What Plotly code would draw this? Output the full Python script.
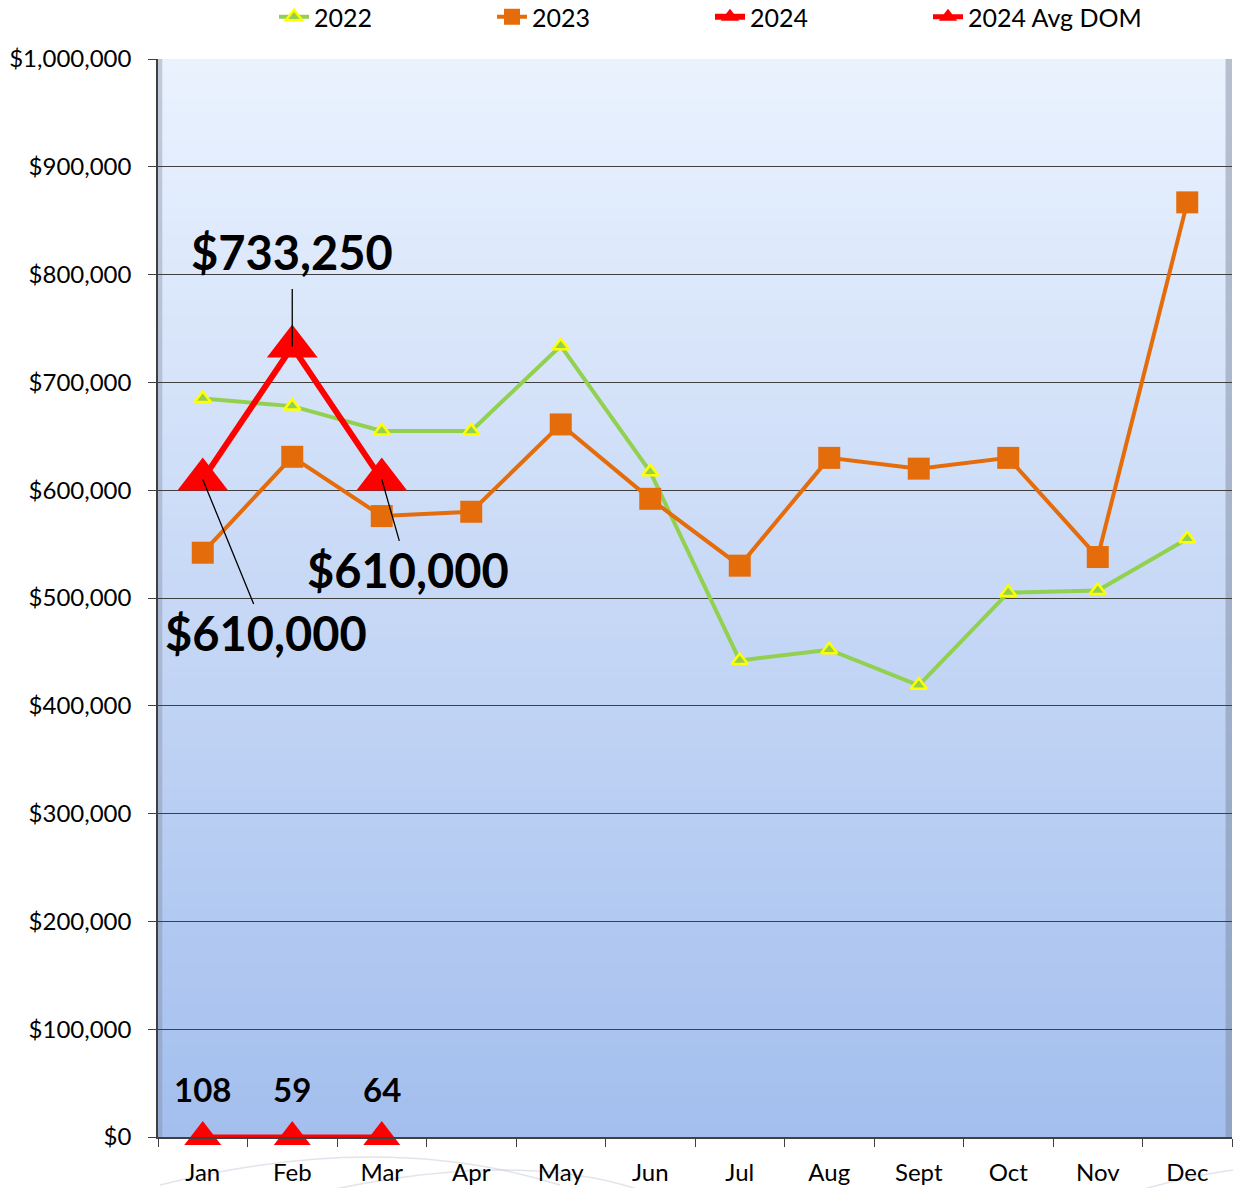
import plotly.graph_objects as go

months = ["Jan", "Feb", "Mar", "Apr", "May", "Jun", "Jul", "Aug", "Sept", "Oct", "Nov", "Dec"]
y2022 = [685000, 678000, 655000, 655000, 734000, 617000, 442000, 452000, 419000, 505000, 507000, 555000]
y2023 = [542000, 631000, 576000, 580000, 661000, 592000, 530000, 630000, 620000, 630000, 538000, 867000]
y2024 = [610000, 733250, 610000]
dom2024 = [108, 59, 64]
months2024 = months[:3]
ytick_vals = list(range(0, 1000001, 100000))

FONT = "Lato"
W, H = 1233, 1188
L, R, T, B = 158, 1, 59, 51
PW, PH = W - L - R, H - T - B


def px(x):
    return (x - L) / PW


def py(y):
    return (H - B - y) / PH


fig = go.Figure()

fig.add_trace(go.Scatter(
    x=months, y=y2022, name="2022", mode="lines+markers",
    line=dict(color="#92D050", width=4),
    marker=dict(symbol="triangle-up", size=14, color="#92D050",
                line=dict(color="#FFFF00", width=2.5)),
))
fig.add_trace(go.Scatter(
    x=months, y=y2023, name="2023", mode="lines+markers",
    line=dict(color="#E46C0A", width=4),
    marker=dict(symbol="square", size=22, color="#E46C0A"),
))
fig.add_trace(go.Scatter(
    x=months2024, y=y2024, name="2024", mode="lines+markers",
    line=dict(color="#FF0000", width=6),
    marker=dict(symbol="triangle-up", size=44, color="#FF0000"),
    cliponaxis=False,
))
fig.add_trace(go.Scatter(
    x=months2024, y=dom2024, name="2024 Avg DOM", mode="lines+markers",
    line=dict(color="#FF0000", width=5),
    marker=dict(symbol="triangle-up", size=32, color="#FF0000"),
    cliponaxis=False,
))

# gradient background
shapes = []
N = 80
top = (234, 242, 254)
bot = (164, 191, 238)
for i in range(N):
    t = i / (N - 1)
    c = tuple(round(top[k] + (bot[k] - top[k]) * t) for k in range(3))
    shapes.append(dict(type="rect", xref="paper", yref="paper",
                       x0=0, x1=1, y0=max(0, 1 - (i + 1) / N - 0.004), y1=1 - i / N,
                       fillcolor="rgb(%d,%d,%d)" % c, line=dict(width=0),
                       layer="below"))
# bevel edges
shapes.append(dict(type="rect", xref="paper", yref="paper", x0=0.994, x1=1.0,
                   y0=0, y1=1, fillcolor="rgba(120,130,150,0.45)",
                   line=dict(width=0), layer="below"))
shapes.append(dict(type="rect", xref="paper", yref="paper", x0=0.0, x1=0.004,
                   y0=0, y1=1, fillcolor="rgba(120,130,150,0.35)",
                   line=dict(width=0), layer="below"))
# faint decorative arcs below the plot
arc1 = "M %f,%f Q %f,%f %f,%f" % (px(160), py(1185), px(383), py(1129), px(560), py(1185))
arc2 = "M %f,%f Q %f,%f %f,%f" % (px(330), py(1190), px(520), py(1150), px(640), py(1190))
arc3 = "M %f,%f Q %f,%f %f,%f" % (px(1140), py(1190), px(1190), py(1176), px(1233), py(1170))
for p in (arc1, arc2, arc3):
    shapes.append(dict(type="path", xref="paper", yref="paper", path=p,
                       line=dict(color="rgba(200,206,220,0.55)", width=1.5),
                       layer="below"))

annotations = []
annotations.append(dict(x="Feb", y=y2024[1], text="<b>$733,250</b>", showarrow=True,
                        arrowhead=0, arrowwidth=1.3, arrowcolor="black",
                        ax=0, ay=-95, startstandoff=8,
                        font=dict(family=FONT, size=47, color="black")))
annotations.append(dict(x="Mar", y=y2024[2], text="<b>$610,000</b>", showarrow=True,
                        arrowhead=0, arrowwidth=1.3, arrowcolor="black",
                        ax=26, ay=91,
                        font=dict(family=FONT, size=47, color="black")))
annotations.append(dict(x="Jan", y=y2024[0], text="<b>$610,000</b>", showarrow=True,
                        arrowhead=0, arrowwidth=1.3, arrowcolor="black",
                        ax=63, ay=154,
                        font=dict(family=FONT, size=47, color="black")))
for m, d in zip(months2024, dom2024):
    annotations.append(dict(x=m, y=d, text="<b>%d</b>" % d, showarrow=False,
                            yshift=48, font=dict(family=FONT, size=33, color="black")))

fig.update_layout(
    width=W, height=H,
    margin=dict(l=L, r=R, t=T, b=B, autoexpand=False),
    paper_bgcolor="white",
    plot_bgcolor="rgba(0,0,0,0)",
    font=dict(family=FONT, color="black"),
    shapes=shapes,
    annotations=annotations,
    legend=dict(orientation="h", x=0.108, xanchor="left",
                yref="container", y=1 - 17 / H, yanchor="middle",
                entrywidth=173, entrywidthmode="pixels",
                font=dict(family=FONT, size=25, color="black"),
                bgcolor="rgba(0,0,0,0)", traceorder="normal"),
    showlegend=True,
)
fig.update_xaxes(
    type="category", categoryorder="array", categoryarray=months,
    showgrid=False, showline=True, linecolor="#404040", linewidth=1.5,
    ticks="outside", tickson="boundaries", ticklen=8, tickcolor="#404040",
    tickfont=dict(family=FONT, size=24, color="black"),
    ticklabelstandoff=13, range=[-0.5, 11.5],
)
fig.update_yaxes(
    range=[0, 1000000], tickvals=ytick_vals, tickformat="$,.0f",
    showgrid=True, gridcolor="#404040", gridwidth=1.3,
    showline=True, linecolor="#404040", linewidth=1.5,
    ticks="outside", ticklen=8, tickcolor="#404040",
    tickfont=dict(family=FONT, size=24, color="black"),
    ticklabelstandoff=12, zeroline=False,
)

fig.write_html("out.html", config={"displayModeBar": False},
               post_script="document.body.style.margin='0';document.body.style.overflow='hidden';")
